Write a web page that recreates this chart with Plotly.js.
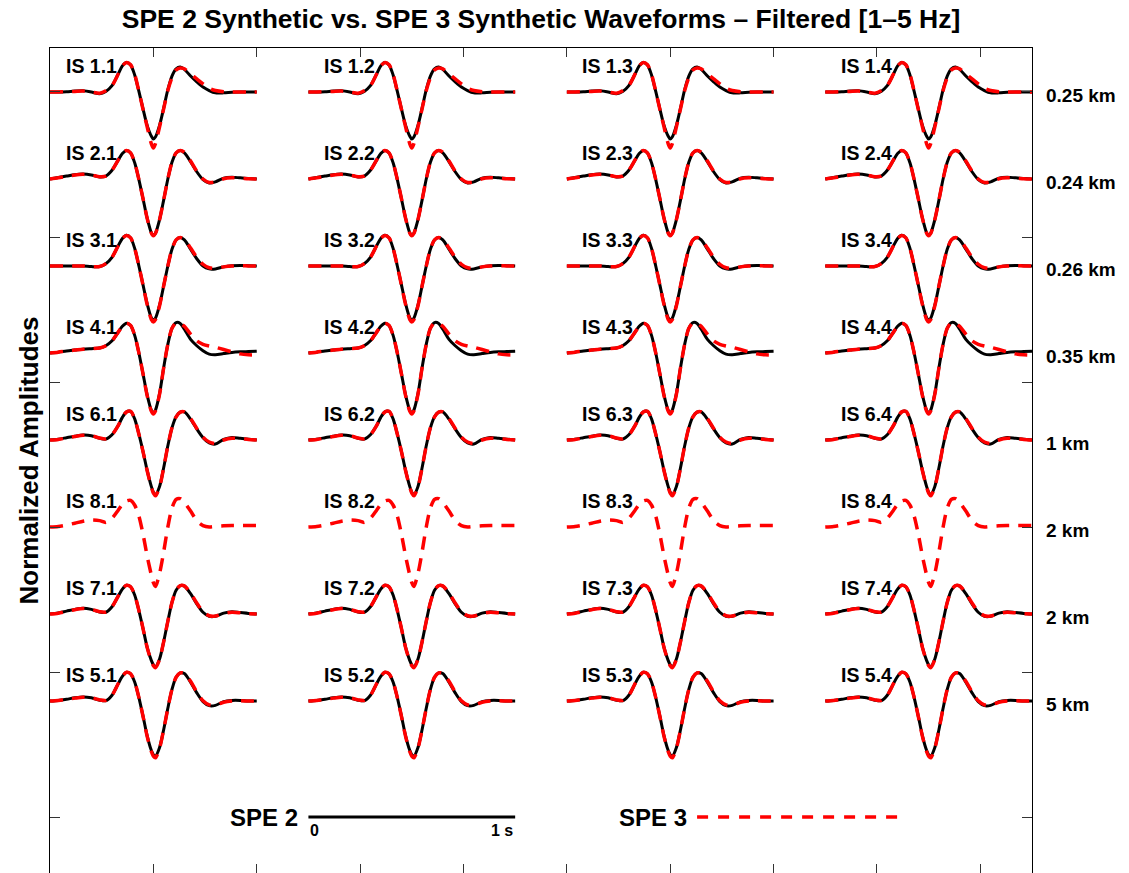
<!DOCTYPE html>
<html>
<head>
<meta charset="utf-8">
<script src="https://cdn.plot.ly/plotly-3.0.1.min.js"></script>
<style>html,body{margin:0;padding:0;background:#fff;}#chart{width:1129px;height:873px;}</style>
</head>
<body>
<div id="chart"></div>
<script>
// ---- data ----
const timeSamples = [0, 0.04, 0.08, 0.12, 0.16, 0.20, 0.24, 0.27, 0.30, 0.33, 0.35, 0.37, 0.39, 0.41, 0.43, 0.45, 0.47, 0.49, 0.50, 0.51, 0.53, 0.55, 0.57, 0.59, 0.61, 0.63, 0.65, 0.68, 0.71, 0.74, 0.77, 0.80, 0.84, 0.88, 0.92, 0.96, 1.0];

const stationRows = ["1", "2", "3", "4", "6", "8", "7", "5"];
const stationCols = ["1", "2", "3", "4"];
const distanceLabels = ["0.25 km", "0.24 km", "0.26 km", "0.35 km", "1 km", "2 km", "2 km", "5 km"];

const spe2_IS1 = [0, 0, 0.01, 0.03, 0.04, 0.0, -0.06, 0.02, 0.22, 0.62, 0.9, 1.02, 0.93, 0.58, 0.02, -0.58, -1.15, -1.52, -1.62, -1.55, -1.15, -0.55, 0.08, 0.55, 0.8, 0.86, 0.78, 0.55, 0.35, 0.17, 0.05, -0.03, -0.03, -0.01, 0, 0, 0];
const spe3_IS1 = [0, 0, 0.01, 0.02, 0.03, 0.0, -0.04, 0.04, 0.22, 0.62, 0.9, 1.02, 0.94, 0.6, 0.02, -0.6, -1.2, -1.78, -1.93, -1.78, -1.2, -0.57, 0.05, 0.5, 0.76, 0.83, 0.8, 0.62, 0.45, 0.28, 0.13, 0.05, 0.01, 0, 0, 0, 0];

const spe2_IS2 = [0, 0.05, 0.1, 0.15, 0.17, 0.14, 0.07, 0.1, 0.3, 0.65, 0.88, 0.98, 0.9, 0.55, -0.02, -0.68, -1.35, -1.85, -1.95, -1.87, -1.4, -0.72, 0.0, 0.58, 0.9, 0.98, 0.9, 0.6, 0.25, -0.02, -0.14, -0.1, 0.03, 0.06, 0.04, 0.02, 0];
const spe3_IS2 = [0, 0.04, 0.09, 0.14, 0.16, 0.14, 0.08, 0.1, 0.3, 0.66, 0.89, 0.98, 0.9, 0.55, -0.02, -0.68, -1.36, -1.86, -1.96, -1.88, -1.4, -0.72, 0.0, 0.58, 0.9, 0.98, 0.92, 0.62, 0.27, 0.0, -0.12, -0.1, 0.01, 0.04, 0.03, 0.01, 0];

const spe2_IS3 = [0, 0, 0, 0, 0, -0.02, -0.02, 0.08, 0.3, 0.7, 0.95, 1.06, 0.97, 0.6, 0.0, -0.65, -1.3, -1.78, -1.87, -1.8, -1.35, -0.68, 0.0, 0.58, 0.9, 0.98, 0.9, 0.58, 0.25, 0.0, -0.1, -0.1, -0.03, 0.01, 0.02, 0.01, 0];
const spe3_IS3 = [0, 0, 0, 0, 0, -0.02, -0.02, 0.08, 0.3, 0.7, 0.95, 1.05, 0.97, 0.6, 0.0, -0.66, -1.33, -1.84, -1.93, -1.85, -1.37, -0.68, 0.0, 0.58, 0.9, 0.98, 0.92, 0.62, 0.3, 0.06, -0.06, -0.08, -0.03, 0.0, 0.01, 0.0, 0];

const spe2_IS4 = [0, 0.03, 0.07, 0.1, 0.13, 0.15, 0.17, 0.25, 0.42, 0.72, 0.92, 1.03, 0.95, 0.6, 0.0, -0.72, -1.45, -1.97, -2.07, -1.97, -1.4, -0.5, 0.3, 0.85, 1.05, 1.02, 0.82, 0.47, 0.25, 0.08, -0.04, -0.06, -0.02, 0.02, 0.04, 0.05, 0.06];
const spe3_IS4 = [0, 0.03, 0.07, 0.1, 0.13, 0.15, 0.17, 0.25, 0.42, 0.72, 0.92, 1.03, 0.95, 0.6, 0.0, -0.72, -1.47, -2.0, -2.1, -2.0, -1.42, -0.5, 0.3, 0.85, 1.04, 1.02, 0.92, 0.65, 0.42, 0.3, 0.24, 0.2, 0.12, 0.04, -0.03, -0.06, -0.07];

const spe2_IS6 = [0, 0.03, 0.08, 0.13, 0.17, 0.15, 0.06, 0.03, 0.18, 0.5, 0.78, 0.97, 0.99, 0.72, 0.2, -0.4, -1.05, -1.6, -1.8, -1.89, -1.6, -0.95, -0.2, 0.42, 0.8, 0.96, 0.97, 0.72, 0.38, 0.08, -0.1, -0.14, 0.02, 0.09, 0.06, 0.03, 0];
const spe3_IS6 = [0, 0.02, 0.07, 0.12, 0.16, 0.15, 0.07, 0.04, 0.18, 0.5, 0.78, 0.97, 0.99, 0.72, 0.2, -0.4, -1.06, -1.62, -1.83, -1.92, -1.62, -0.95, -0.2, 0.42, 0.8, 0.96, 0.97, 0.74, 0.4, 0.1, -0.07, -0.12, 0.0, 0.06, 0.05, 0.02, 0];

const spe2_IS8 = null; // no SPE 2 trace at IS 8.x
const spe3_IS8 = [0, 0.02, 0.07, 0.13, 0.2, 0.24, 0.22, 0.16, 0.3, 0.58, 0.78, 0.9, 0.92, 0.75, 0.38, -0.25, -1.0, -1.65, -1.92, -2.05, -1.6, -0.85, 0.0, 0.65, 0.95, 0.98, 0.85, 0.55, 0.22, 0.05, 0.0, 0.02, 0.04, 0.05, 0.05, 0.05, 0.05];

const spe2_IS7 = [0, 0.04, 0.1, 0.16, 0.2, 0.16, 0.07, 0.06, 0.25, 0.62, 0.86, 0.99, 0.94, 0.65, 0.12, -0.5, -1.15, -1.6, -1.75, -1.82, -1.55, -0.95, -0.25, 0.4, 0.82, 0.98, 0.96, 0.7, 0.35, 0.06, -0.08, -0.08, 0.03, 0.08, 0.05, 0.02, 0];
const spe3_IS7 = [0, 0.03, 0.09, 0.15, 0.19, 0.16, 0.08, 0.07, 0.25, 0.62, 0.86, 0.99, 0.94, 0.65, 0.12, -0.5, -1.16, -1.62, -1.78, -1.85, -1.56, -0.95, -0.25, 0.4, 0.82, 0.98, 0.97, 0.72, 0.38, 0.08, -0.06, -0.07, 0.02, 0.06, 0.04, 0.01, 0];

const spe2_IS5 = [0, 0.02, 0.06, 0.11, 0.14, 0.11, 0.03, 0.01, 0.2, 0.6, 0.85, 0.99, 0.94, 0.65, 0.12, -0.52, -1.2, -1.7, -1.85, -1.9, -1.6, -0.98, -0.25, 0.4, 0.82, 0.97, 0.95, 0.65, 0.28, -0.02, -0.16, -0.15, -0.02, 0.02, 0.02, 0, 0];
const spe3_IS5 = [0, 0.02, 0.06, 0.1, 0.13, 0.11, 0.04, 0.02, 0.2, 0.6, 0.85, 0.99, 0.94, 0.65, 0.12, -0.53, -1.22, -1.74, -1.9, -1.96, -1.63, -0.98, -0.25, 0.4, 0.82, 0.97, 0.96, 0.68, 0.31, 0.01, -0.13, -0.14, -0.04, 0.0, 0.01, 0, 0];

const scaleBarSeconds = [0, 1];
const scaleBarLabels = ["0", "1 s"];

// ---- build ----
const spe2Rows = [spe2_IS1, spe2_IS2, spe2_IS3, spe2_IS4, spe2_IS6, spe2_IS8, spe2_IS7, spe2_IS5];
const spe3Rows = [spe3_IS1, spe3_IS2, spe3_IS3, spe3_IS4, spe3_IS6, spe3_IS8, spe3_IS7, spe3_IS5];

const ROW_STEP = 3;         // vertical offset between stations (axis units)
const COL_STEP = 1.25;      // horizontal offset between columns (s)
const FONT = "Liberation Sans, Arial, Helvetica, sans-serif";
const BLACK = {color: "#000", width: 3, shape: "spline", smoothing: 0.8};
const RED = {color: "#ff0000", width: 3.5, dash: "13px,9px", shape: "spline", smoothing: 0.8};

const blackTraces = [], redTraces = [], annotations = [];

stationRows.forEach((rid, r) => {
  const base = -ROW_STEP * r;
  stationCols.forEach((cid, c) => {
    const x0 = COL_STEP * c;
    const xs = timeSamples.map(t => t + x0);
    if (spe2Rows[r]) {
      blackTraces.push({type: "scatter", mode: "lines", x: xs, y: spe2Rows[r].map(v => v + base), line: BLACK, hoverinfo: "skip"});
    }
    if (spe3Rows[r]) {
      redTraces.push({type: "scatter", mode: "lines", x: xs, y: spe3Rows[r].map(v => v + base), line: RED, hoverinfo: "skip"});
    }
    annotations.push({
      text: "IS " + rid + "." + cid, xref: "x", yref: "y", x: x0 + 0.066, y: base + 0.9,
      xanchor: "left", yanchor: "middle", showarrow: false,
      font: {family: FONT, size: 19.5, color: "#000", weight: "bold"}
    });
  });
  annotations.push({
    text: distanceLabels[r], xref: "paper", yref: "y", x: 1, xshift: 12, y: base - 0.12,
    xanchor: "left", yanchor: "middle", showarrow: false,
    font: {family: FONT, size: 19, color: "#000", weight: "bold"}
  });
});

// legend / scale bars
const barY = -25;
const bar2Start = COL_STEP;       // 1.25 s
const bar3Start = 3.13;
const scaleTraces = [
  {type: "scatter", mode: "lines", x: scaleBarSeconds.map(s => s + bar2Start), y: scaleBarSeconds.map(() => barY),
   line: {color: "#000", width: 3}, hoverinfo: "skip"},
  {type: "scatter", mode: "lines", x: scaleBarSeconds.map(s => s + bar3Start), y: scaleBarSeconds.map(() => barY),
   line: {color: "#ff0000", width: 3.5, dash: "11px,10px"}, hoverinfo: "skip"}
];
annotations.push({text: "SPE 2", xref: "x", yref: "y", x: bar2Start, xshift: -8, y: barY, xanchor: "right", yanchor: "middle",
  showarrow: false, font: {family: FONT, size: 24, color: "#000", weight: "bold"}});
annotations.push({text: "SPE 3", xref: "x", yref: "y", x: bar3Start, xshift: -8, y: barY, xanchor: "right", yanchor: "middle",
  showarrow: false, font: {family: FONT, size: 24, color: "#000", weight: "bold"}});
annotations.push({text: scaleBarLabels[0], xref: "x", yref: "y", x: bar2Start + scaleBarSeconds[0], y: barY, yshift: -3, xanchor: "left", yanchor: "top",
  showarrow: false, font: {family: FONT, size: 16, color: "#000", weight: "bold"}});
annotations.push({text: scaleBarLabels[1], xref: "x", yref: "y", x: bar2Start + scaleBarSeconds[1], y: barY, yshift: -3, xanchor: "right", yanchor: "top",
  showarrow: false, font: {family: FONT, size: 16, color: "#000", weight: "bold"}});
annotations.push({text: "Normalized Amplitudes", xref: "paper", yref: "paper", x: 0, xshift: -22, y: 0.5,
  xanchor: "center", yanchor: "middle", textangle: -90, showarrow: false,
  font: {family: FONT, size: 26, color: "#000", weight: "bold"}});

const layout = {
  width: 1129, height: 873,
  margin: {l: 50, r: 97, t: 48, b: 0, pad: 0},
  paper_bgcolor: "#fff", plot_bgcolor: "#fff",
  showlegend: false,
  title: {text: "SPE 2 Synthetic vs. SPE 3 Synthetic Waveforms – Filtered [1–5 Hz]",
    font: {family: FONT, size: 26.5, color: "#000", weight: "bold"},
    x: 0.5, xref: "paper", xanchor: "center", y: 1 - 19 / 873, yref: "container", yanchor: "middle"},
  xaxis: {range: [0, 4.75], tick0: 0, dtick: 0.5, ticks: "inside", ticklen: 9, tickwidth: 1, tickcolor: "#333",
    showticklabels: false, showgrid: false, zeroline: false, showline: true, linecolor: "#000", linewidth: 1, mirror: "ticks", fixedrange: true},
  yaxis: {range: [-26.93, 1.517], tick0: 0, dtick: 5, ticks: "inside", ticklen: 10, tickwidth: 1, tickcolor: "#333",
    showticklabels: false, showgrid: false, zeroline: false, showline: true, linecolor: "#000", linewidth: 1, mirror: "ticks", fixedrange: true},
  annotations: annotations
};

Plotly.newPlot("chart", blackTraces.concat(redTraces, scaleTraces), layout, {displayModeBar: false, staticPlot: true});
</script>
</body>
</html>
